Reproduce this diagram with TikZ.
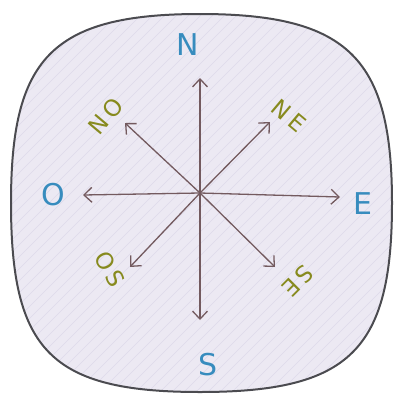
\documentclass[tikz,border=0pt]{standalone}
\usepackage{fontspec}
\setmainfont{DejaVu Sans}
\usetikzlibrary{arrows.meta}
\usepackage{xcolor}
\definecolor{cblue}{RGB}{55,140,190}
\definecolor{colive}{RGB}{135,138,30}
\definecolor{carrow}{RGB}{115,90,95}
\definecolor{cfill}{RGB}{236,233,243}
\definecolor{chatch}{RGB}{222,218,234}
\definecolor{cedge}{RGB}{75,75,80}

\begin{document}
\begin{tikzpicture}[x=1pt,y=-1pt,
  arr/.style={-{Straight Barb[length=8pt,width=15pt]},carrow,line width=1.3pt},
  card/.style={font=\fontsize{30}{30}\selectfont,cblue},
  inter/.style={font=\fontsize{23}{23}\selectfont,colive}
]
  \useasboundingbox (0,0) rectangle (394,399);
  % rounded dial
  \path[fill=cfill] (11,203) .. controls (11,60) and (50,14) .. (200,14)
    .. controls (350,14) and (392,60) .. (392,203)
    .. controls (392,350) and (350,392) .. (200,392)
    .. controls (50,392) and (11,350) .. (11,203) -- cycle;
  \begin{scope}
    \clip (11,203) .. controls (11,60) and (50,14) .. (200,14)
      .. controls (350,14) and (392,60) .. (392,203)
      .. controls (392,350) and (350,392) .. (200,392)
      .. controls (50,392) and (11,350) .. (11,203) -- cycle;
    \foreach \k in {-400,-388,...,400}
      \draw[chatch,line width=0.6pt] (\k,400) -- (\k+400,0);
  \end{scope}
  \draw[cedge,line width=2pt] (11,203) .. controls (11,60) and (50,14) .. (200,14)
    .. controls (350,14) and (392,60) .. (392,203)
    .. controls (392,350) and (350,392) .. (200,392)
    .. controls (50,392) and (11,350) .. (11,203) -- cycle;

  % centre and arrow tips
  \coordinate (c)  at (200,193);
  \coordinate (tn) at (200,78);
  \coordinate (ts) at (200,320);
  \coordinate (tw) at (83,195);
  \coordinate (te) at (340,197);
  \coordinate (tne) at (270,122);
  \coordinate (tnw) at (125,123);
  \coordinate (tsw) at (130,267);
  \coordinate (tse) at (275,267);

  \draw[arr] (c) -- (tn);
  \draw[arr] (c) -- (ts);
  \draw[arr] (c) -- (tw);
  \draw[arr] (c) -- (te);
  \draw[arr] (c) -- (tne);
  \draw[arr] (c) -- (tnw);
  \draw[arr] (c) -- (tsw);
  \draw[arr] (c) -- (tse);

  % cardinal points
  \node[card] (n) at (188,45) {N};
  \node[card] (s) at (208,365) {S};
  \node[card] (o) at (53,195) {O};
  \node[card] (e) at (363,204) {E};

  % intercardinal points
  \node[inter,rotate=50]  (no) at (106,116) {N\,O};
  \node[inter,rotate=-40] (ne) at (289,116) {N\,E};
  \node[inter,rotate=-60] (os) at (110,269) {O\,S};
  \node[inter,rotate=225] (se) at (298,281) {S\,E};
\end{tikzpicture}
\end{document}
